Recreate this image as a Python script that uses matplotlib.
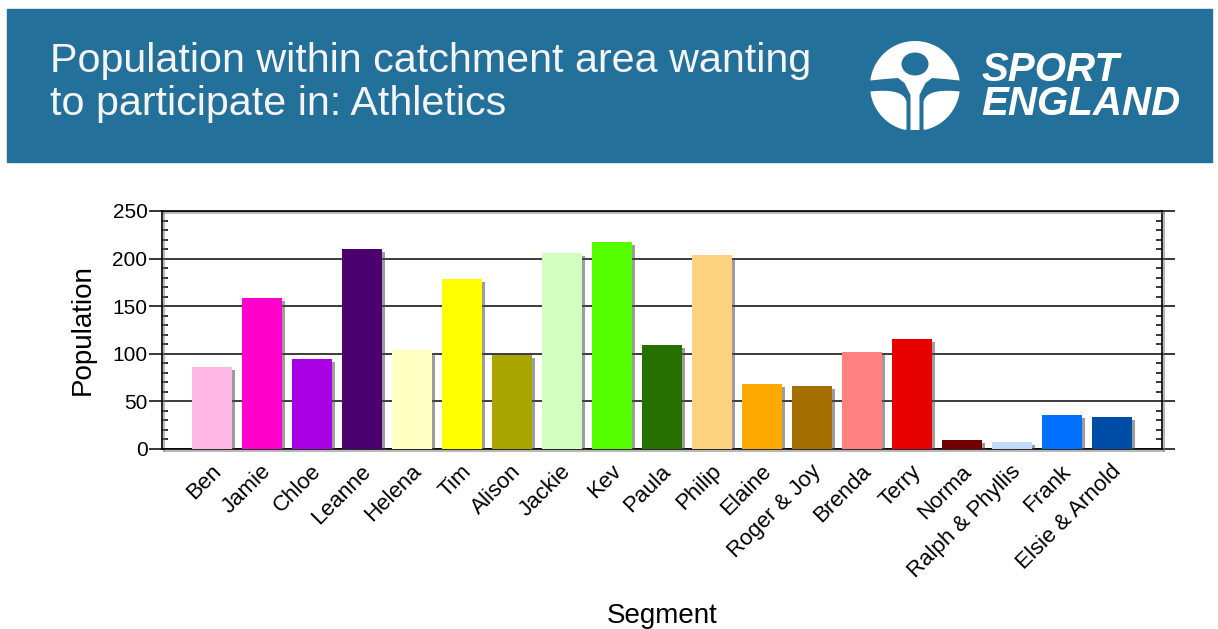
import matplotlib
matplotlib.use("Agg")
import matplotlib.pyplot as plt
import numpy as np
from matplotlib import patheffects
from matplotlib.patches import Rectangle, Polygon, Ellipse
from matplotlib.transforms import ScaledTranslation
from matplotlib.ticker import MultipleLocator, FixedLocator

plt.rcParams['font.family'] = ['Liberation Sans', 'DejaVu Sans']

segments = ["Ben", "Jamie", "Chloe", "Leanne", "Helena", "Tim", "Alison",
            "Jackie", "Kev", "Paula", "Philip", "Elaine", "Roger & Joy",
            "Brenda", "Terry", "Norma", "Ralph & Phyllis", "Frank",
            "Elsie & Arnold"]
population = [86, 159, 95, 210, 104, 179, 99, 206, 217, 109, 204, 68, 66,
              102, 116, 9, 7, 36, 34]
bar_colors = ["#FFB8E6", "#FF00CC", "#AA00E6", "#4B0070", "#FFFFC2",
              "#FFFF00", "#A9A600", "#D2FFC0", "#55FF00", "#267000",
              "#FFD280", "#FFAA00", "#A56E00", "#FF8080", "#E60000",
              "#730000", "#C2D9FF", "#0070FF", "#004DA8"]

title_lines = ["Population within catchment area wanting",
               "to participate in: Athletics"]
BANNER = "#23709A"
W, H = 1218, 629

fig = plt.figure(figsize=(W / 100, H / 100), dpi=100, facecolor='white')

# banner across the top
fig.patches.append(Rectangle((7 / W, 1 - 162 / H), 1205 / W, 153 / H,
                             transform=fig.transFigure, color=BANNER,
                             zorder=-1))
for line, base in zip(title_lines, [72, 115]):
    fig.text(50 / W, 1 - base / H, line, color='#F4F4F4', fontsize=29.7,
             ha='left', va='baseline')

# logo, drawn in pixel units (y down)
lax = fig.add_axes([860 / W, 1 - 135 / H, 110 / W, 100 / H], zorder=2)
lax.set_xlim(860, 970)
lax.set_ylim(135, 35)
lax.axis('off')
cx, cy, R = 915.0, 86.0, 45.0
th = np.radians(np.linspace(7, 173, 60))
cap = list(zip(cx + R * np.cos(th), cy - R * np.sin(th)))
cap += [(885, 79), (898, 78), (904.5, 83), (910.5, 95), (910.5, 130),
        (919.5, 130), (919.5, 95), (925.5, 83), (932, 78), (945, 79)]
lax.add_patch(Polygon(cap, closed=True, color='white', lw=0))
lax.add_patch(Ellipse((915, 64), 27, 23, color=BANNER, lw=0))
th = np.radians(np.linspace(187, 257, 40))
leaf = list(zip(cx + R * np.cos(th), cy - R * np.sin(th)))
t = np.linspace(0, 1, 20)
leaf_tip = np.array(leaf[0])
p0, p1 = np.array([906.5, 102]), np.array([904, 88])
curve = ((1 - t)[:, None] ** 2 * p0 + 2 * ((1 - t) * t)[:, None] * p1
         + (t ** 2)[:, None] * leaf_tip)
leaf += [(906.5, 129.5)] + [tuple(p) for p in curve]
leaf = np.array(leaf)
lax.add_patch(Polygon(leaf, closed=True, color='white', lw=0))
mirror = leaf.copy()
mirror[:, 0] = 2 * cx - mirror[:, 0]
lax.add_patch(Polygon(mirror, closed=True, color='white', lw=0))

fig.text(981 / W, 1 - 51 / H, "SPORT\nENGLAND", color='white', fontsize=29,
         fontweight='bold', fontstyle='italic', ha='left', va='top',
         linespacing=0.86)

# bar chart
ax = fig.add_axes([162 / W, 1 - 449 / H, 1000 / W, 238 / H])
x = np.arange(1, len(segments) + 1)
shadow = [patheffects.SimplePatchShadow(offset=(2.2, -2.2),
                                        shadow_rgbFace='0.3', alpha=0.55),
          patheffects.Normal()]
bars = ax.bar(x, population, width=0.8, color=bar_colors, zorder=3)
for b in bars:
    b.set_path_effects(shadow)

ax.set_xlim(0, 20)
ax.set_ylim(0, 250)
ax.yaxis.set_major_locator(MultipleLocator(50))
ax.yaxis.set_minor_locator(MultipleLocator(10))
ax.xaxis.set_major_locator(FixedLocator(x))
ax.xaxis.set_minor_locator(FixedLocator([5, 10, 15]))
ax.set_axisbelow(True)
ax.yaxis.grid(True, which='major', color='#1a1a1a', linewidth=1.2)

ax.tick_params(axis='y', which='major', direction='out', length=9.5,
               width=1.1, left=True, right=True, labelsize=15, pad=1,
               colors='black')
ax.tick_params(axis='y', which='minor', direction='in', length=4.5,
               width=1.1, left=True, right=True)
ax.tick_params(axis='x', which='major', length=0, labelsize=16, pad=14)
ax.tick_params(axis='x', which='minor', direction='out', length=3.6,
               width=1.1, top=True, bottom=True)

ax.set_xticklabels(segments, rotation=45, ha='right', va='center',
                   rotation_mode='anchor')
nudge = ScaledTranslation(0.06, 0, fig.dpi_scale_trans)
for lbl in ax.get_xticklabels():
    lbl.set_transform(lbl.get_transform() + nudge)

spine_shadow = [patheffects.SimpleLineShadow(offset=(1.5, -1.5),
                                             shadow_color='0.45', alpha=0.6),
                patheffects.Normal()]
for sp in ax.spines.values():
    sp.set_linewidth(1.2)
    sp.set_path_effects(spine_shadow)

ax.set_ylabel("Population", fontsize=20, labelpad=12)
fig.text(662 / W, 1 - 623 / H, "Segment", fontsize=20, ha='center',
         va='baseline')

fig.savefig("out.png", dpi=100, facecolor='white')
